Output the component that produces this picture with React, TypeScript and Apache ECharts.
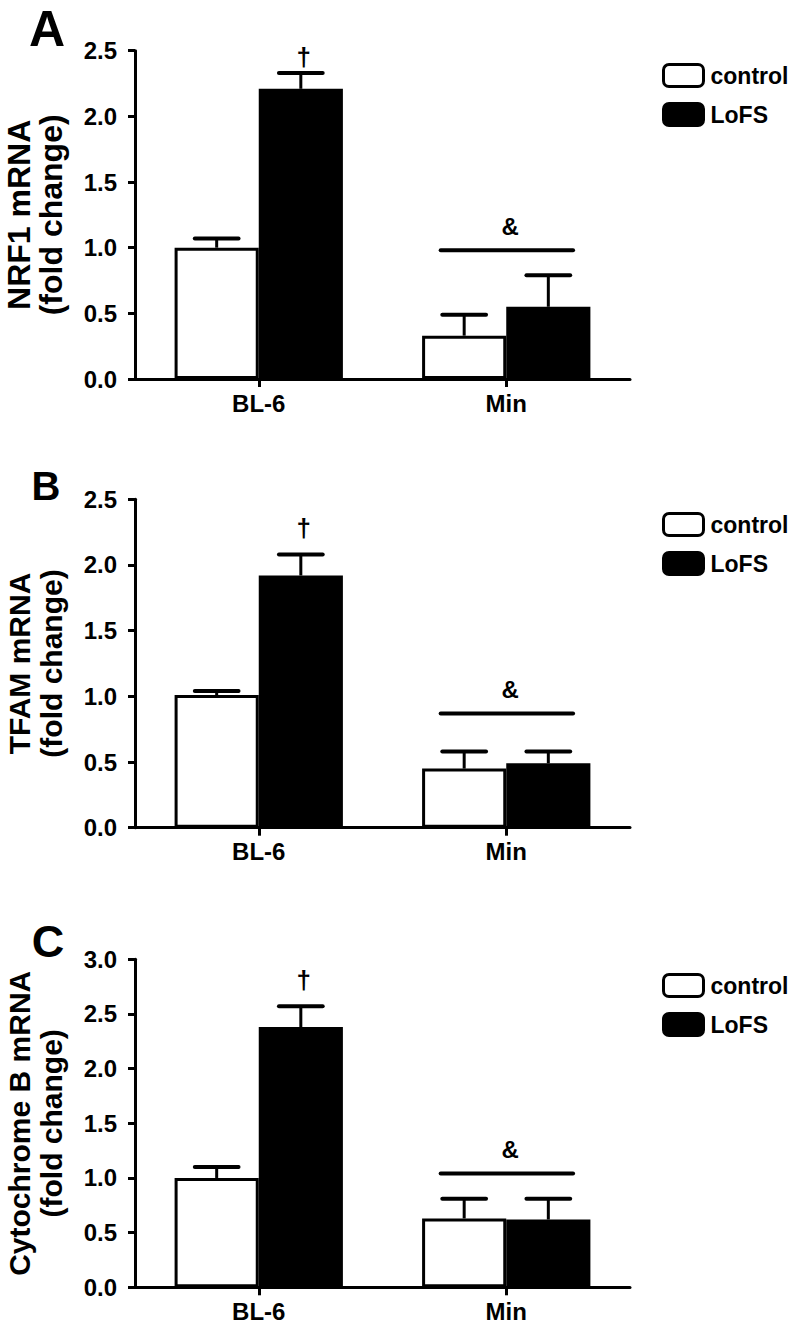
import React, { useEffect, useRef } from "react";
import * as echarts from "echarts";

// ---------- data ----------
const categories = ["BL-6", "Min"];
const groupNames = ["control", "LoFS"];

// Panel A: NRF1
const nrf1Control = [1.0, 0.33];
const nrf1ControlErr = [0.07, 0.16];
const nrf1LoFS = [2.21, 0.55];
const nrf1LoFSErr = [0.12, 0.24];

// Panel B: TFAM
const tfamControl = [1.01, 0.45];
const tfamControlErr = [0.03, 0.13];
const tfamLoFS = [1.92, 0.49];
const tfamLoFSErr = [0.16, 0.09];

// Panel C: Cytochrome B
const cytbControl = [1.0, 0.63];
const cytbControlErr = [0.1, 0.18];
const cytbLoFS = [2.38, 0.62];
const cytbLoFSErr = [0.19, 0.19];

const panelLetters = ["A", "B", "C"];
const yTitles = [
  "NRF1 mRNA\n(fold change)",
  "TFAM mRNA\n(fold change)",
  "Cytochrome B mRNA\n(fold change)",
];
const yMaxima = [2.5, 2.5, 3.0];
const yIntervals = [0.5, 0.5, 0.5];
// annotation levels (data units)
const daggerLevels = [2.45, 2.28, 2.81];
const ampLineLevels = [0.98, 0.87, 1.04];

// ---------- layout / style ----------
const FONT = "'Liberation Sans', Arial, Helvetica, sans-serif";
const GRID_LEFT = 135;
const GRID_WIDTH = 495;
const gridTops = [50.7, 499.3, 959.3];
const gridHeights = [328.3, 328.4, 328];
const legendTops = [63, 512, 973];
const titleSizes = [32, 30, 30];
const letterPos = [
  { x: 47, y: 29, size: 50 },
  { x: 46, y: 486, size: 40 },
  { x: 48, y: 941, size: 45 },
];
const BAR_FRAC = 0.34;

const panels = [
  { c: nrf1Control, ce: nrf1ControlErr, l: nrf1LoFS, le: nrf1LoFSErr },
  { c: tfamControl, ce: tfamControlErr, l: tfamLoFS, le: tfamLoFSErr },
  { c: cytbControl, ce: cytbControlErr, l: cytbLoFS, le: cytbLoFSErr },
];

function errorRender(params: any, api: any) {
  const cat = api.value(0);
  const g = api.value(1);
  const mean = api.value(2);
  const hi = api.value(3);
  const band = api.size([1, 0])[0];
  const bw = band * BAR_FRAC;
  const base = api.coord([cat, mean]);
  const top = api.coord([cat, hi]);
  const cx = base[0] + (g === 0 ? -bw / 2 : bw / 2);
  const cap = bw * 0.26;
  return {
    type: "group",
    children: [
      {
        type: "line",
        shape: { x1: cx, y1: base[1], x2: cx, y2: top[1] },
        style: { stroke: "#000", lineWidth: 3 },
      },
      {
        type: "line",
        shape: { x1: cx - cap, y1: top[1], x2: cx + cap, y2: top[1] },
        style: { stroke: "#000", lineWidth: 4, lineCap: "round" },
      },
    ],
  };
}

function daggerRender(params: any, api: any) {
  const cat = api.value(0);
  const lvl = api.value(1);
  const band = api.size([1, 0])[0];
  const bw = band * BAR_FRAC;
  const p = api.coord([cat, lvl]);
  return {
    type: "text",
    x: p[0] + bw / 2 + 3,
    y: p[1],
    style: {
      text: "†",
      fontFamily: FONT,
      fontWeight: "bold",
      fontSize: 26,
      fill: "#000",
      align: "center",
      verticalAlign: "middle",
    },
  };
}

function ampRender(params: any, api: any) {
  const cat = api.value(0);
  const lvl = api.value(1);
  const band = api.size([1, 0])[0];
  const p = api.coord([cat, lvl]);
  return {
    type: "group",
    children: [
      {
        type: "line",
        shape: { x1: p[0] - band * 0.265, y1: p[1], x2: p[0] + band * 0.27, y2: p[1] },
        style: { stroke: "#000", lineWidth: 4, lineCap: "round" },
      },
      {
        type: "text",
        x: p[0] + 4,
        y: p[1] - 24,
        style: {
          text: "&",
          fontFamily: FONT,
          fontWeight: "bold",
          fontSize: 24,
          fill: "#000",
          align: "center",
          verticalAlign: "middle",
        },
      },
    ],
  };
}

export default function App() {
  const ref = useRef<HTMLDivElement>(null);

  useEffect(() => {
    if (!ref.current) return;
    const chart = echarts.init(ref.current, undefined, { renderer: "svg" });

    const grid: any[] = [];
    const xAxis: any[] = [];
    const yAxis: any[] = [];
    const series: any[] = [];
    const legend: any[] = [];
    const graphic: any[] = [];

    panels.forEach((p, i) => {
      grid.push({
        left: GRID_LEFT,
        top: gridTops[i],
        width: GRID_WIDTH,
        height: gridHeights[i],
        containLabel: false,
      });
      xAxis.push({
        type: "category",
        gridIndex: i,
        data: categories,
        axisLine: { show: true, lineStyle: { color: "#000", width: 3 } },
        axisTick: { show: true, alignWithLabel: true, length: 8, lineStyle: { color: "#000", width: 3 } },
        axisLabel: {
          color: "#000",
          fontFamily: FONT,
          fontWeight: "bold",
          fontSize: 24,
          margin: 12,
        },
        splitLine: { show: false },
      });
      yAxis.push({
        type: "value",
        gridIndex: i,
        min: 0,
        max: yMaxima[i],
        interval: yIntervals[i],
        axisLine: { show: true, lineStyle: { color: "#000", width: 3 } },
        axisTick: { show: true, length: 7, lineStyle: { color: "#000", width: 3 } },
        axisLabel: {
          color: "#000",
          fontFamily: FONT,
          fontWeight: "bold",
          fontSize: 24,
          margin: 18,
          formatter: (v: number) => v.toFixed(1),
        },
        splitLine: { show: false },
      });
      series.push({
        type: "bar",
        name: groupNames[0],
        xAxisIndex: i,
        yAxisIndex: i,
        data: p.c,
        barWidth: BAR_FRAC * 100 + "%",
        barGap: "0%",
        itemStyle: { color: "#fff", borderColor: "#000", borderWidth: 3 },
        z: 2,
      });
      series.push({
        type: "bar",
        name: groupNames[1],
        xAxisIndex: i,
        yAxisIndex: i,
        data: p.l,
        barWidth: BAR_FRAC * 100 + "%",
        barGap: "0%",
        itemStyle: { color: "#000", borderColor: "#000", borderWidth: 3 },
        z: 2,
      });
      const errData: number[][] = [];
      categories.forEach((_, k) => {
        errData.push([k, 0, p.c[k], p.c[k] + p.ce[k]]);
        errData.push([k, 1, p.l[k], p.l[k] + p.le[k]]);
      });
      series.push({
        type: "custom",
        name: "err" + i,
        xAxisIndex: i,
        yAxisIndex: i,
        data: errData,
        encode: { x: 0, y: [2, 3] },
        renderItem: errorRender,
        z: 5,
        silent: true,
      });
      series.push({
        type: "custom",
        name: "dagger" + i,
        xAxisIndex: i,
        yAxisIndex: i,
        data: [[0, daggerLevels[i]]],
        encode: { x: 0, y: 1 },
        renderItem: daggerRender,
        z: 5,
        silent: true,
      });
      series.push({
        type: "custom",
        name: "amp" + i,
        xAxisIndex: i,
        yAxisIndex: i,
        data: [[1, ampLineLevels[i]]],
        encode: { x: 0, y: 1 },
        renderItem: ampRender,
        z: 5,
        silent: true,
      });
      legend.push({
        orient: "vertical",
        left: 662,
        top: legendTops[i],
        padding: 0,
        itemWidth: 40,
        itemHeight: 22,
        itemGap: 14,
        icon: "roundRect",
        selectedMode: false,
        textStyle: {
          color: "#000",
          fontFamily: FONT,
          fontWeight: "bold",
          fontSize: 23,
          lineHeight: 22,
          padding: [0, 0, 0, 2],
        },
        data: [
          { name: groupNames[0], itemStyle: { color: "#fff", borderColor: "#000", borderWidth: 3 } },
          { name: groupNames[1], itemStyle: { color: "#000", borderColor: "#000", borderWidth: 3 } },
        ],
      });
      graphic.push({
        type: "text",
        x: 35,
        y: gridTops[i] + gridHeights[i] / 2,
        rotation: Math.PI / 2,
        style: {
          text: yTitles[i],
          fontFamily: FONT,
          fontWeight: "bold",
          fontSize: titleSizes[i],
          lineHeight: 32,
          fill: "#000",
          align: "center",
          verticalAlign: "middle",
        },
      });
      graphic.push({
        type: "text",
        x: letterPos[i].x,
        y: letterPos[i].y,
        style: {
          text: panelLetters[i],
          fontFamily: FONT,
          fontWeight: "bold",
          fontSize: letterPos[i].size,
          fill: "#000",
          align: "center",
          verticalAlign: "middle",
        },
      });
    });

    chart.setOption({
      animation: false,
      backgroundColor: "#fff",
      grid,
      xAxis,
      yAxis,
      series,
      legend,
      graphic,
    });

    return () => chart.dispose();
  }, []);

  return (
    <div
      ref={ref}
      style={{ position: "absolute", left: 0, top: 0, width: 794, height: 1332, background: "#fff" }}
    />
  );
}
